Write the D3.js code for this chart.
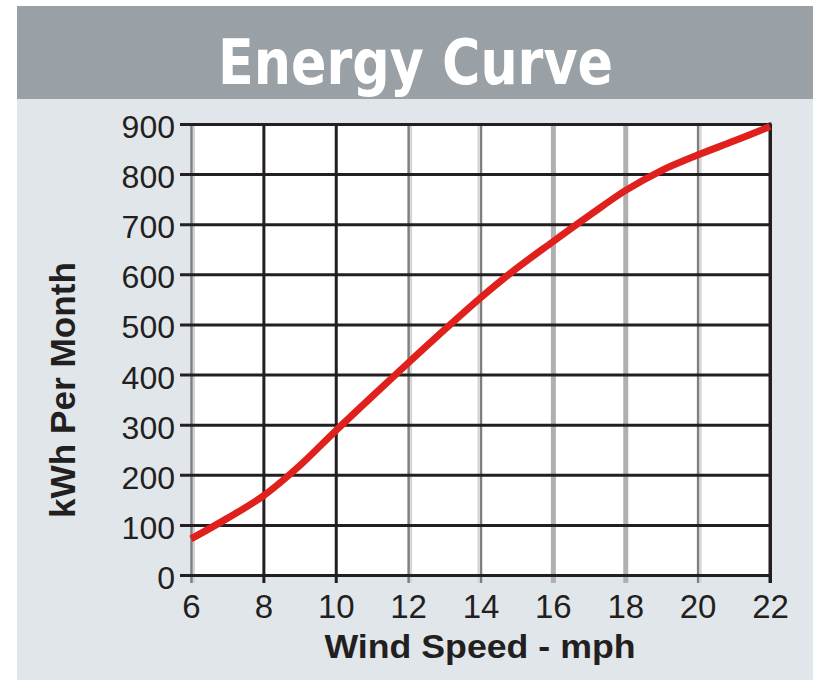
<!DOCTYPE html>
<html>
<head>
<meta charset="utf-8">
<script src="https://cdn.jsdelivr.net/npm/d3@7"></script>
<style>
  html, body { margin: 0; padding: 0; background: #ffffff; }
  svg { display: block; }
</style>
</head>
<body>
<svg id="chart" width="813" height="680"></svg>
<script>
// ---- data ----
const windSpeed = [6, 7, 8, 9, 10, 11, 12, 13, 14, 15, 16, 17, 18, 19, 20, 21, 22];
const energyKwh = [72, 113, 158, 218, 288, 356, 423, 489, 553, 612, 665, 717, 767, 807, 838, 866, 895];
const xTicks = [6, 8, 10, 12, 14, 16, 18, 20, 22];
const yTicks = [0, 100, 200, 300, 400, 500, 600, 700, 800, 900];
const titleText = "Energy Curve";
const xLabel = "Wind Speed - mph";
const yLabel = "kWh Per Month";

// ---- layout ----
const W = 813, H = 680;
const plot = { left: 191, right: 770, top: 124, bottom: 575 };
const svg = d3.select("#chart");

// backgrounds
svg.append("rect").attr("x", 0).attr("y", 0).attr("width", W).attr("height", H).attr("fill", "#ffffff");
svg.append("rect").attr("x", 17).attr("y", 6).attr("width", W - 17).attr("height", 93).attr("fill", "#9aa1a6");
svg.append("rect").attr("x", 17).attr("y", 99).attr("width", W - 17).attr("height", H - 99).attr("fill", "#e1e6ea");

// title
svg.append("text")
  .attr("x", 415.5).attr("y", 84)
  .attr("text-anchor", "middle")
  .attr("font-family", "'DejaVu Sans', Verdana, sans-serif")
  .attr("font-weight", "bold")
  .attr("font-size", 62)
  .attr("textLength", 395)
  .attr("lengthAdjust", "spacingAndGlyphs")
  .attr("fill", "#ffffff")
  .text(titleText);

// scales
const x = d3.scaleLinear().domain([6, 22]).range([plot.left, plot.right]);
const y = d3.scaleLinear().domain([0, 900]).range([plot.bottom, plot.top]);

// plot area
svg.append("rect")
  .attr("x", plot.left).attr("y", plot.top)
  .attr("width", plot.right - plot.left).attr("height", plot.bottom - plot.top)
  .attr("fill", "#ffffff");

// vertical grid styles (mimic the scanned look)
const vStyle = v => {
  if (v === 8 || v === 10 || v === 22) return { c: "#231f20", w: 3 };
  if (v === 16 || v === 18) return { c: "#b0b0b0", w: 5 };
  return { c: "#7f7f7f", w: 2.5 };
};

// vertical grid via axis
const xGrid = svg.append("g")
  .attr("transform", `translate(0,${plot.bottom})`)
  .call(d3.axisBottom(x).tickValues(xTicks).tickSize(-(plot.bottom - plot.top)).tickFormat(""));
xGrid.select(".domain").remove();
xGrid.selectAll(".tick line").each(function(d) {
  const s = vStyle(d);
  d3.select(this).attr("stroke", s.c).attr("stroke-width", s.w).attr("y2", -(plot.bottom - plot.top)).attr("y1", 8);
});
// light edge next to the gray lines
xGrid.selectAll(".tick").filter(d => d === 6 || d === 12 || d === 20)
  .append("line").attr("x1", 2.5).attr("x2", 2.5).attr("y1", 8).attr("y2", -(plot.bottom - plot.top))
  .attr("stroke", "#d4d4d4").attr("stroke-width", 2);
xGrid.selectAll(".tick").filter(d => d === 14)
  .append("line").attr("x1", -2.5).attr("x2", -2.5).attr("y1", 8).attr("y2", -(plot.bottom - plot.top))
  .attr("stroke", "#d4d4d4").attr("stroke-width", 2);

// horizontal grid via axis
const yGrid = svg.append("g")
  .attr("transform", `translate(${plot.right},0)`)
  .call(d3.axisLeft(y).tickValues(yTicks).tickSize(plot.right - 180).tickFormat(""));
yGrid.select(".domain").remove();
yGrid.selectAll(".tick line").attr("stroke", "#231f20").attr("stroke-width", 3);

// right border
svg.append("line")
  .attr("x1", plot.right).attr("x2", plot.right)
  .attr("y1", plot.top - 1.5).attr("y2", plot.bottom + 8)
  .attr("stroke", "#231f20").attr("stroke-width", 3);

// x tick labels
const xAxis = svg.append("g")
  .attr("transform", `translate(0,${plot.bottom})`)
  .call(d3.axisBottom(x).tickValues(xTicks).tickSize(0).tickPadding(0).tickFormat(d3.format("d")));
xAxis.select(".domain").remove();
xAxis.selectAll("text")
  .attr("y", 43).attr("dy", null)
  .attr("font-family", "'Liberation Sans', Arial, sans-serif")
  .attr("font-size", 33)
  .attr("fill", "#231f20");

// y tick labels
const yAxis = svg.append("g")
  .attr("transform", `translate(175,0)`)
  .call(d3.axisLeft(y).tickValues(yTicks).tickSize(0).tickPadding(0).tickFormat(d3.format("d")));
yAxis.select(".domain").remove();
yAxis.selectAll("text")
  .attr("dy", "0.42em")
  .attr("font-family", "'Liberation Sans', Arial, sans-serif")
  .attr("font-size", 32)
  .attr("fill", "#231f20");

// curve
const line = d3.line()
  .x((d, i) => x(windSpeed[i]))
  .y(d => y(d))
  .curve(d3.curveCatmullRom.alpha(0.5));
svg.append("path")
  .datum(energyKwh)
  .attr("d", line)
  .attr("fill", "none")
  .attr("stroke", "#e0201c")
  .attr("stroke-width", 7);

// axis titles
svg.append("text")
  .attr("x", 480).attr("y", 658)
  .attr("text-anchor", "middle")
  .attr("font-family", "'Liberation Sans', Arial, sans-serif")
  .attr("font-weight", "bold")
  .attr("font-size", 34)
  .attr("textLength", 311)
  .attr("lengthAdjust", "spacingAndGlyphs")
  .attr("fill", "#231f20")
  .text(xLabel);

svg.append("text")
  .attr("transform", "translate(75,390) rotate(-90)")
  .attr("text-anchor", "middle")
  .attr("font-family", "'Liberation Sans', Arial, sans-serif")
  .attr("font-weight", "bold")
  .attr("font-size", 35)
  .attr("textLength", 256)
  .attr("lengthAdjust", "spacingAndGlyphs")
  .attr("fill", "#231f20")
  .text(yLabel);
</script>
</body>
</html>
